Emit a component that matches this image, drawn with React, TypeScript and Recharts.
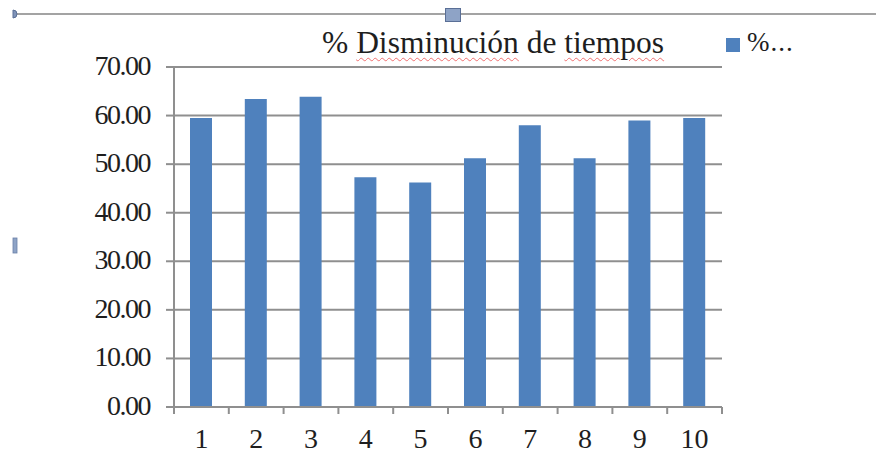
import React from "react";
import { BarChart, Bar, XAxis, YAxis, CartesianGrid } from "recharts";

// values
const categories = ["1", "2", "3", "4", "5", "6", "7", "8", "9", "10"];
const reductionPct = [59.5, 63.4, 63.9, 47.3, 46.2, 51.2, 58.0, 51.2, 59.0, 59.5];
const yTicks = [0, 10, 20, 30, 40, 50, 60, 70];

const CHART_W = 876;
const CHART_H = 453;
const Y_AXIS_W = 174;
const X_AXIS_H = 46;
const MARGIN = { top: 67, right: 154, bottom: 0, left: 0 };
const PLOT_W = CHART_W - MARGIN.left - MARGIN.right - Y_AXIS_W;
const BAND = PLOT_W / categories.length;

const GRID = "#8f8f8f";
const BAR_BLUE = "#4f81bd";
const TEXT = "#1e1e1e";
const FONT = "'Liberation Serif', 'Times New Roman', serif";

const data = categories.map((c, i) => ({ cat: c, pct: reductionPct[i] }));

function XTick(props: any) {
  const { x, y, index, payload } = props;
  const left = x - BAND / 2;
  const last = index === categories.length - 1;
  return (
    <g>
      <line x1={left} y1={y} x2={left} y2={y + 7} stroke={GRID} strokeWidth={2} />
      {last && (
        <line x1={x + BAND / 2} y1={y} x2={x + BAND / 2} y2={y + 7} stroke={GRID} strokeWidth={2} />
      )}
      <text x={x} y={y + 41} textAnchor="middle" fill={TEXT} fontSize={28} fontFamily={FONT}>
        {payload.value}
      </text>
    </g>
  );
}

function YTick(props: any) {
  const { x, y, payload } = props;
  return (
    <text
      x={x}
      y={y + 8}
      textAnchor="end"
      fill={TEXT}
      fontSize={28}
      fontFamily={FONT}
      letterSpacing={-1.5}
    >
      {Number(payload.value).toFixed(2)}
    </text>
  );
}

export default function App() {
  return (
    <div
      style={{
        position: "absolute",
        left: 0,
        top: 0,
        width: CHART_W,
        height: CHART_H,
        background: "#fff",
        overflow: "hidden",
      }}
    >
      <BarChart width={CHART_W} height={CHART_H} data={data} margin={MARGIN}>
        <CartesianGrid horizontal vertical={false} stroke={GRID} strokeWidth={2} />
        <XAxis
          dataKey="cat"
          height={X_AXIS_H}
          axisLine={{ stroke: GRID, strokeWidth: 2 }}
          tickLine={false}
          tickSize={0}
          tickMargin={0}
          interval={0}
          tick={<XTick />}
        />
        <YAxis
          width={Y_AXIS_W}
          domain={[0, 70]}
          ticks={yTicks}
          interval={0}
          axisLine={{ stroke: GRID, strokeWidth: 2 }}
          tickLine={{ stroke: GRID, strokeWidth: 2 }}
          tickSize={8}
          tickMargin={16}
          tick={<YTick />}
        />
        <Bar dataKey="pct" fill={BAR_BLUE} barSize={22} isAnimationActive={false} />
      </BarChart>

      {/* frame decorations of the copied chart object */}
      <svg
        width={CHART_W}
        height={CHART_H}
        style={{ position: "absolute", left: 0, top: 0, pointerEvents: "none" }}
      >
        <line x1={14} y1={14} x2={876} y2={14} stroke="#a3a3a3" strokeWidth={2} />
        <path d="M13 10 A4 4 0 0 1 13 18 Z" fill="#7f93b8" stroke="#5a6f96" strokeWidth={1} />
        <rect x={445.5} y={8.5} width={15} height={13} fill="#8ea3c6" stroke="#5a6f96" strokeWidth={1} />
        <rect x={13} y={238} width={4} height={15} fill="#8ea3c6" stroke="#6a7fa8" strokeWidth={0.8} />
        <rect x={726} y={38} width={14} height={14} fill={BAR_BLUE} />
      </svg>

      <div
        style={{
          position: "absolute",
          left: 322,
          top: 27,
          fontFamily: FONT,
          fontSize: 31.5,
          lineHeight: 1,
          color: TEXT,
          whiteSpace: "nowrap",
        }}
      >
        %{" "}
        <span style={{ textDecoration: "underline wavy #f07070", textDecorationThickness: 1, textUnderlineOffset: 4 }}>
          Disminución
        </span>{" "}
        de{" "}
        <span style={{ textDecoration: "underline wavy #f07070", textDecorationThickness: 1, textUnderlineOffset: 4 }}>
          tiempos
        </span>
      </div>

      <div
        style={{
          position: "absolute",
          left: 747,
          top: 29,
          fontFamily: FONT,
          fontSize: 27,
          lineHeight: 1,
          color: TEXT,
          letterSpacing: 1,
          whiteSpace: "nowrap",
        }}
      >
        %...
      </div>
    </div>
  );
}
